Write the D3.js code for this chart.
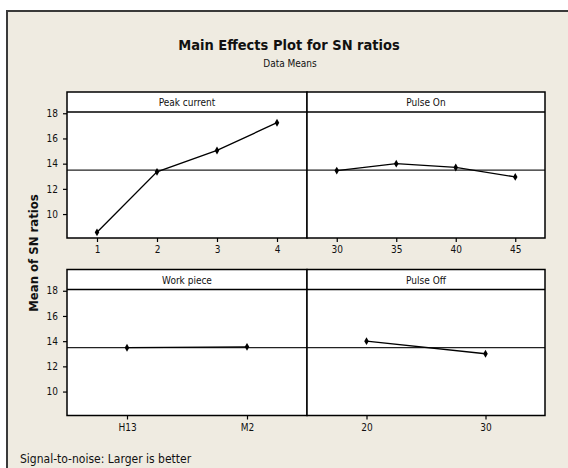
<!DOCTYPE html>
<html>
<head>
<meta charset="utf-8">
<script src="https://cdn.jsdelivr.net/npm/d3@7"></script>
<style>
  body { margin: 0; background: #fff; }
  svg text { font-family: 'DejaVu Sans Condensed', 'DejaVu Sans', sans-serif; font-stretch: condensed; fill: #111; }
</style>
</head>
<body>
<svg id="chart" width="568" height="468"></svg>
<script>
// factors and their levels
var factors = ["Peak current", "Pulse On", "Work piece", "Pulse Off"];
var peakLevels = ["1", "2", "3", "4"];
var peakMeans = [8.55, 13.35, 15.05, 17.25];
var onLevels = ["30", "35", "40", "45"];
var onMeans = [13.45, 14.0, 13.7, 12.95];
var workLevels = ["H13", "M2"];
var workMeans = [13.48, 13.55];
var offLevels = ["20", "30"];
var offMeans = [14.0, 13.0];
var grandMean = 13.48;
var yTicks = [10, 12, 14, 16, 18];

var svg = d3.select("#chart");

// beige frame
svg.append("rect")
    .attr("x", 7)
    .attr("y", 11)
    .attr("width", 620)
    .attr("height", 500)
    .attr("fill", "#efebe1")
    .attr("stroke", "#3a3a3a")
    .attr("stroke-width", 2);

// titles
svg.append("text")
    .attr("x", 289)
    .attr("y", 50)
    .attr("text-anchor", "middle")
    .attr("font-size", "14.5px")
    .attr("font-weight", "bold")
    .text("Main Effects Plot for SN ratios");

svg.append("text")
    .attr("x", 290)
    .attr("y", 67)
    .attr("text-anchor", "middle")
    .attr("font-size", "10px")
    .text("Data Means");

svg.append("text")
    .attr("transform", "translate(38,253) rotate(-90)")
    .attr("text-anchor", "middle")
    .attr("font-size", "13px")
    .attr("font-weight", "bold")
    .text("Mean of SN ratios");

svg.append("text")
    .attr("x", 20)
    .attr("y", 463)
    .attr("font-size", "12px")
    .text("Signal-to-noise: Larger is better");

// panel layout
var cols = [67, 307, 545];
var rows = [92, 269.5];
var stripH = 20;
var dataH = 126;

var panels = [
    { name: factors[0], levels: peakLevels, means: peakMeans, col: 0, row: 0 },
    { name: factors[1], levels: onLevels, means: onMeans, col: 1, row: 0 },
    { name: factors[2], levels: workLevels, means: workMeans, col: 0, row: 1 },
    { name: factors[3], levels: offLevels, means: offMeans, col: 1, row: 1 }
];

panels.forEach(function(p) {
    var x0 = cols[p.col], x1 = cols[p.col + 1];
    var top = rows[p.row];
    var dataTop = top + stripH;
    var bottom = dataTop + dataH;

    // levels are evenly spaced, half a step of padding on each side
    var x = d3.scalePoint()
        .domain(p.levels)
        .range([x0, x1])
        .padding(0.5);
    var y = d3.scaleLinear()
        .domain([8.1, 18.1])
        .range([bottom, dataTop]);

    var g = svg.append("g");

    g.append("rect")
        .attr("x", x0)
        .attr("y", top)
        .attr("width", x1 - x0)
        .attr("height", bottom - top)
        .attr("fill", "#fff");

    // strip with factor name
    g.append("text")
        .attr("x", (x0 + x1) / 2)
        .attr("y", top + 14)
        .attr("text-anchor", "middle")
        .attr("font-size", "10px")
        .text(p.name);

    // overall mean line
    g.append("line")
        .attr("x1", x0)
        .attr("x2", x1)
        .attr("y1", y(grandMean))
        .attr("y2", y(grandMean))
        .attr("stroke", "#222")
        .attr("stroke-width", 1.2);

    var line = d3.line()
        .x(function(d, i) { return x(p.levels[i]); })
        .y(function(d) { return y(d); });

    g.append("path")
        .datum(p.means)
        .attr("d", line)
        .attr("fill", "none")
        .attr("stroke", "#000")
        .attr("stroke-width", 1.3);

    g.selectAll(".pt")
        .data(p.means)
        .enter()
        .append("path")
        .attr("class", "pt")
        .attr("transform", function(d, i) {
            return "translate(" + x(p.levels[i]) + "," + y(d) + ")";
        })
        .attr("d", d3.symbol().type(d3.symbolDiamond).size(18))
        .attr("fill", "#000");

    // x axis
    var xAxis = d3.axisBottom(x).tickSize(4).tickPadding(4);
    var gx = g.append("g")
        .attr("transform", "translate(0," + bottom + ")")
        .call(xAxis);
    gx.select(".domain").remove();
    gx.selectAll("line").attr("stroke", "#000").attr("stroke-width", 1.2);
    gx.selectAll("text").attr("font-size", "10px").attr("font-family", null);

    // y axis only on left column
    if (p.col === 0) {
        var yAxis = d3.axisLeft(y).tickValues(yTicks).tickSize(4).tickPadding(5);
        var gy = g.append("g")
            .attr("transform", "translate(" + x0 + ",0)")
            .call(yAxis);
        gy.select(".domain").remove();
        gy.selectAll("line").attr("stroke", "#000").attr("stroke-width", 1.2);
        gy.selectAll("text").attr("font-size", "10px").attr("font-family", null);
    }

    // frame lines
    g.append("line")
        .attr("x1", x0).attr("x2", x1)
        .attr("y1", dataTop).attr("y2", dataTop)
        .attr("stroke", "#000").attr("stroke-width", 1.5);
    g.append("rect")
        .attr("x", x0)
        .attr("y", top)
        .attr("width", x1 - x0)
        .attr("height", bottom - top)
        .attr("fill", "none")
        .attr("stroke", "#000")
        .attr("stroke-width", 1.5);
});
</script>
</body>
</html>
